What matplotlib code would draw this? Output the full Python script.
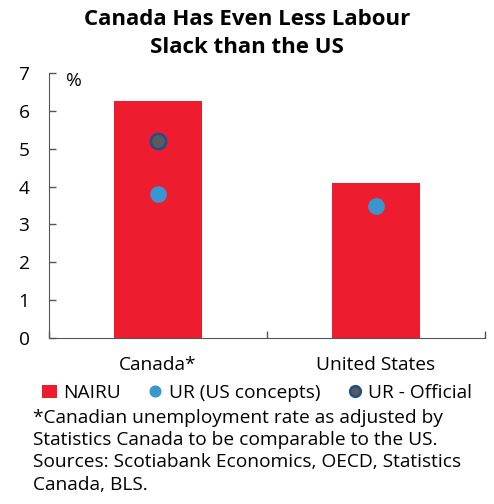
import matplotlib.pyplot as plt
import numpy as np

plt.rcParams['font.family'] = ['Open Sans', 'DejaVu Sans']

TITLE = "Canada Has Even Less Labour\nSlack than the US"
countries = ['Canada*', 'United States']
nairu = [6.25, 4.1]
ur_us_concepts = [3.8, 3.5]
ur_official = [5.2, None]
NOTE = ("*Canadian unemployment rate as adjusted by\n"
        "Statistics Canada to be comparable to the US.\n"
        "Sources: Scotiabank Economics, OECD, Statistics\n"
        "Canada, BLS.")

RED = '#ED1C2E'
BLUE = '#3A96CF'
GREY = '#5A5A5A'
NAVY = '#1F4E8C'
FS = 13.8

fig = plt.figure(figsize=(4.94, 5.04), dpi=100)
ax = fig.add_axes([49 / 494, 1 - 338 / 504, 436 / 494, 265 / 504])

x = np.arange(len(countries))
bars = ax.bar(x, nairu, width=0.4, color=RED, label='NAIRU', zorder=2)
us_pts, = ax.plot(x, ur_us_concepts, 'o', ms=11, color=BLUE, mec=BLUE,
                  label='UR (US concepts)', zorder=3)
off_x = [i for i, v in zip(x, ur_official) if v is not None]
off_y = [v for v in ur_official if v is not None]
off_pts, = ax.plot(off_x, off_y, 'o', ms=11, color=GREY, mec=NAVY, mew=1.8,
                   label='UR - Official', zorder=3)

ax.set_xlim(-0.5, 1.5)
ax.set_ylim(0, 7)
ax.set_yticks(range(0, 8))
ax.set_xticks([-0.5, 0.5, 1.5])
ax.set_xticklabels([])
ax.tick_params(axis='both', direction='in', length=5, color='#555555',
               labelsize=FS, width=1)
ax.tick_params(axis='y', pad=14)
for side in ['top', 'right']:
    ax.spines[side].set_visible(False)
for side in ['left', 'bottom']:
    ax.spines[side].set_color('#555555')
for i, c in enumerate(countries):
    ax.text(i, -0.48, c, ha='center', va='top', fontsize=FS)
ax.text(0.04, 0.97, '%', fontsize=FS, transform=ax.transAxes,
        ha='left', va='center')

fig.text(0.5, 0.982, TITLE, ha='center', va='top', fontsize=16,
         fontweight='bold', linespacing=1.45)

fig.legend([bars, us_pts, off_pts], ['NAIRU', 'UR (US concepts)', 'UR - Official'],
           loc='center', bbox_to_anchor=(0.52, 1 - 393 / 504),
           ncol=3, frameon=False, fontsize=FS, handlelength=0.8,
           handletextpad=0.3, columnspacing=1.4, markerscale=0.7)

fig.text(33 / 494, 1 - 409 / 504, NOTE, ha='left', va='top', fontsize=FS,
         linespacing=1.3)

fig.savefig('out.png', dpi=100)
